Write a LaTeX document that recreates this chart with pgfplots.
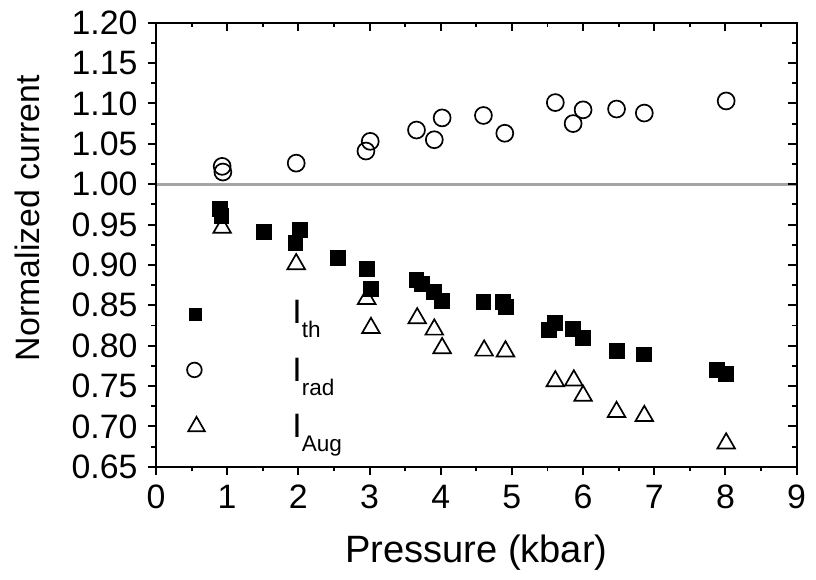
\documentclass[border=0pt]{standalone}
\usepackage{fontspec}
\setmainfont{Liberation Sans}
\usepackage{pgfplots}
\pgfplotsset{compat=1.18}
\definecolor{refline}{RGB}{165,165,165}
\newcommand{\sub}[1]{\raisebox{-5pt}{\fontsize{8}{9}\selectfont #1}}

\pgfplotsset{
  frame/.style={
    width=227.15pt, height=157.5pt, scale only axis,
    xmin=0, xmax=9, ymin=0.65, ymax=1.2,
    xtick={0,1,2,3,4,5,6,7,8,9},
    ytick={0.65,0.70,0.75,0.80,0.85,0.90,0.95,1.00,1.05,1.10,1.15,1.20},
    minor x tick num=1, minor y tick num=1,
    axis line style={line width=0.7pt},
    every tick/.style={black, line width=0.7pt},
    major tick length=3pt, minor tick length=1.6pt,
  },
}

\begin{document}
\begin{tikzpicture}
\begin{axis}[frame, clip=false,
  tick align=outside, xtick pos=bottom, ytick pos=left,
  font=\fontsize{12}{14}\selectfont,
  /pgf/number format/assume math mode=true,
  yticklabel style={/pgf/number format/.cd, fixed, fixed zerofill, precision=2},
  xlabel={Pressure (kbar)}, ylabel={Normalized current},
  every axis x label/.style={at={(axis description cs:0.5,-0.2156)}, anchor=base,
    font=\fontsize{13.5}{16}\selectfont},
  every axis y label/.style={at={(axis description cs:-0.200,0.56)}, rotate=90,
    anchor=center, font=\fontsize{12}{14}\selectfont},
]
% reference line at 1
\addplot[refline, line width=1pt, forget plot] coordinates {(0,1) (9,1)};

% I_th
\addplot[only marks, mark=square*, mark size=2.6pt, black] table {
x y
0.90 0.969
0.92 0.961
1.52 0.941
1.96 0.927
2.02 0.943
2.56 0.909
2.96 0.895
3.02 0.870
3.66 0.881
3.74 0.876
3.91 0.866
4.02 0.855
4.60 0.854
4.87 0.854
4.92 0.848
5.52 0.819
5.61 0.828
5.86 0.821
6.00 0.810
6.48 0.793
6.86 0.789
7.88 0.770
8.01 0.765
};

% I_rad
\addplot[only marks, mark=o, mark size=3pt, black, line width=0.6pt] table {
x y
0.93 1.022
0.94 1.015
1.97 1.026
2.95 1.041
3.01 1.053
3.66 1.067
3.91 1.055
4.02 1.082
4.60 1.085
4.90 1.063
5.61 1.101
5.86 1.075
6.00 1.092
6.47 1.093
6.86 1.088
8.01 1.103
};

% I_Aug
\addplot[only marks, mark=triangle, mark size=3.6pt, black, line width=0.6pt] table {
x y
0.93 0.946
1.97 0.901
2.96 0.858
3.02 0.822
3.67 0.834
3.91 0.820
4.02 0.797
4.61 0.794
4.91 0.793
5.61 0.756
5.87 0.757
6.00 0.738
6.47 0.718
6.86 0.713
8.01 0.679
};

% key
\addplot[only marks, mark=square*, mark size=2.1pt, black] coordinates {(0.56,0.839)};
\addplot[only marks, mark=o, mark size=2.6pt, black, line width=0.6pt] coordinates {(0.54,0.770)};
\addplot[only marks, mark=triangle, mark size=3.4pt, black, line width=0.6pt] coordinates {(0.57,0.700)};
\node[anchor=base west, inner sep=0pt] at (axis cs:1.91,0.827) {I\sub{th}};
\node[anchor=base west, inner sep=0pt] at (axis cs:1.91,0.756) {I\sub{rad}};
\node[anchor=base west, inner sep=0pt] at (axis cs:1.91,0.686) {I\sub{Aug}};

\path (axis cs:-2.191,0.518) rectangle (axis cs:9.125,1.228);
\end{axis}

\begin{axis}[frame, tick align=inside, xtick pos=top, ytick pos=right,
  xticklabels={}, yticklabels={}]
\end{axis}
\end{tikzpicture}
\end{document}
